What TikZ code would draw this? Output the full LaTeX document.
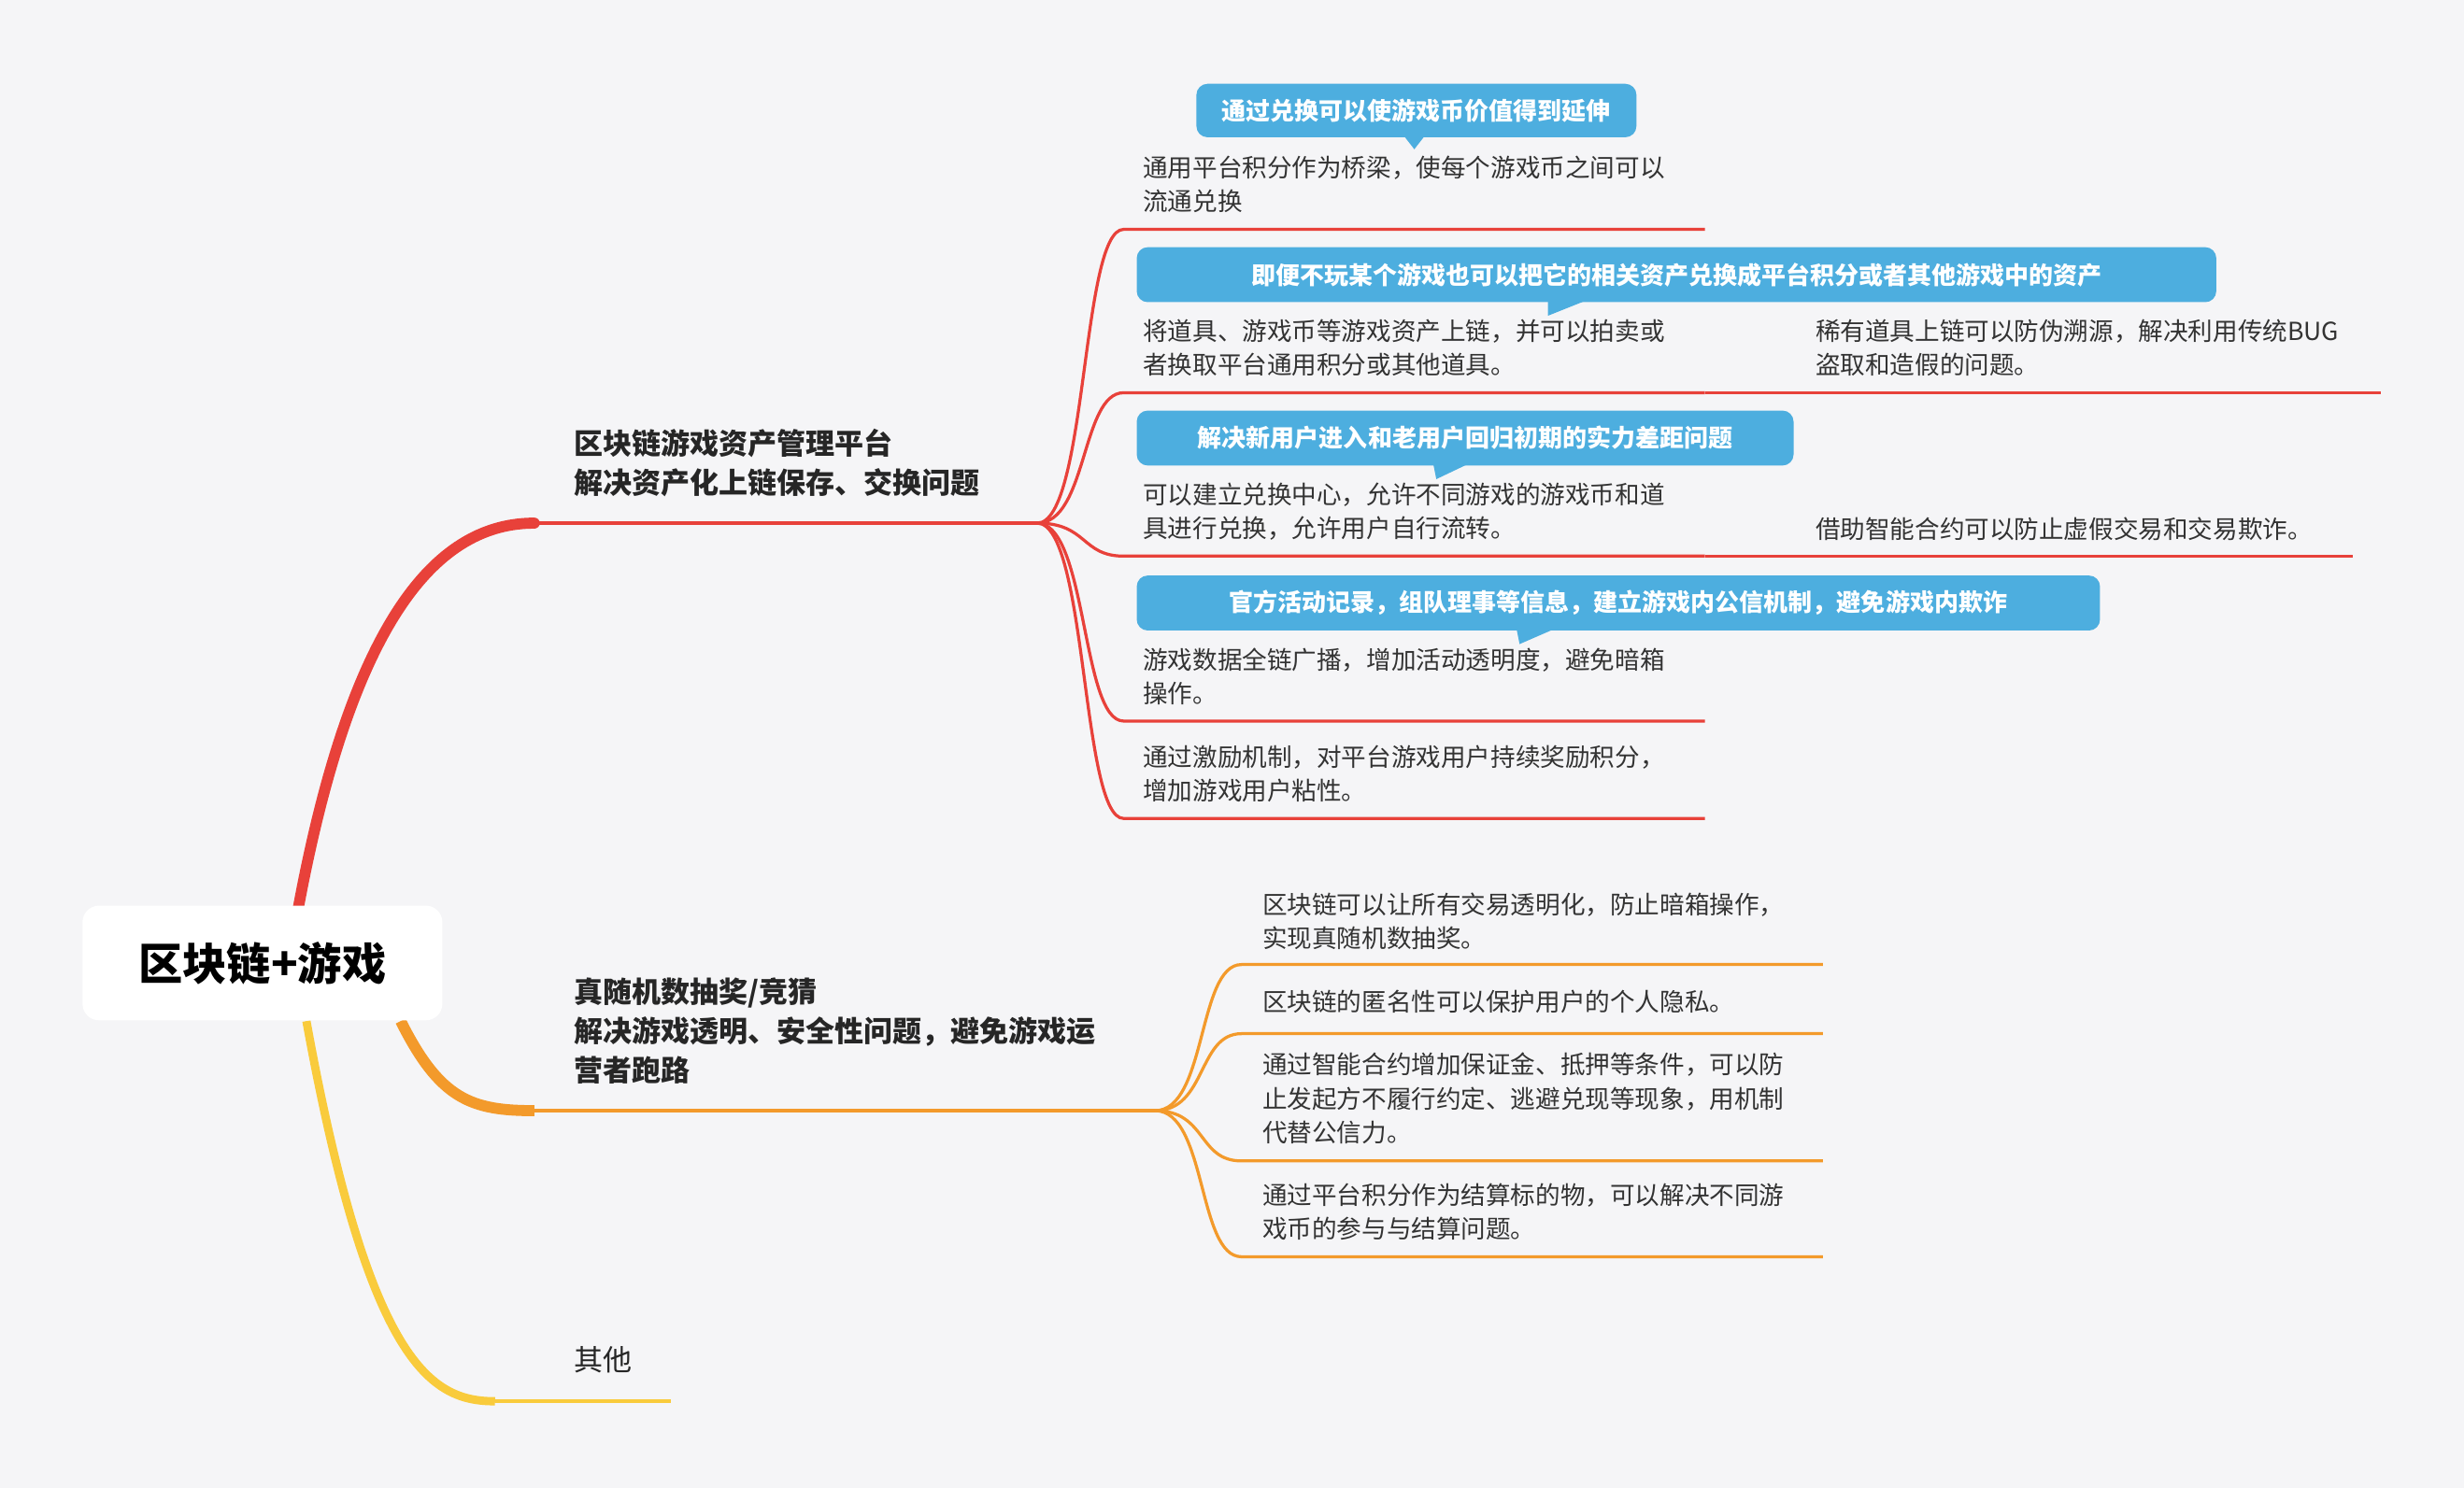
\documentclass[tikz,border=0pt]{standalone}
\usepackage{fontspec}
\setmainfont{Noto Sans CJK SC}
\definecolor{bg}{HTML}{F5F5F7}
\definecolor{cred}{HTML}{E8413A}
\definecolor{corange}{HTML}{F39A2B}
\definecolor{cyellow}{HTML}{F9CB3C}
\definecolor{cblue}{HTML}{4DAEDF}
\definecolor{ctext}{HTML}{333333}
\begin{document}
\begin{tikzpicture}[x=0.02cm,y=-0.02cm,
  leaf/.style={anchor=north west,inner sep=0,align=left,text=ctext,font=\fontsize{9}{12.2}\selectfont},
  branch/.style={anchor=north west,inner sep=0,align=left,text=black!85,font=\fontsize{10.5}{14.2}\selectfont\bfseries},
  callout/.style={fill=cblue,rounded corners=4pt,text=white,font=\fontsize{8.8}{11}\selectfont\bfseries,inner sep=0,anchor=north west},
  sub/.style={line width=1.1pt}]
\fill[bg] (0,0) rectangle (1568,947);
\useasboundingbox (0,0) rectangle (1568,947);
% main branches
\coordinate (rtop) at (190,577);
\coordinate (rbot) at (255,650);
\coordinate (ybot) at (195,650);
\draw[cred,line width=4pt,line cap=round] (rtop) .. controls (225,390) and (280,333) .. (340,333) coordinate (b1);
\draw[cred,line width=1.3pt] (b1) -- (660,333) coordinate (h1);
\draw[corange,line width=4pt] (rbot) .. controls (280,700) and (300,707) .. (340,707) coordinate (b2);
\draw[corange,line width=1.3pt] (b2) -- (735,707) coordinate (h2);
\draw[cyellow,line width=3pt] (ybot) .. controls (235,870) and (275,892) .. (315,892) coordinate (b3);
\draw[cyellow,line width=1.3pt] (b3) -- (427,892);
% root
\node[fill=white,rounded corners=6pt,minimum width=229*0.02cm,minimum height=73*0.02cm,font=\fontsize{16}{18}\selectfont\bfseries] (root) at (167,613) {区块链+游戏};
\node[branch] (l1) at (365,273) {区块链游戏资产管理平台\\解决资产化上链保存、交换问题};
\node[branch] (l2) at (365,622) {真随机数抽奖/竞猜\\解决游戏透明、安全性问题，避免游戏运\\营者跑路};
\node[branch,font=\fontsize{10.5}{14}\selectfont] (l3) at (365,857) {其他};
% red sub-branches
\foreach \y in {146,250,354,459,521}{
  \draw[cred,sub] (h1) .. controls (692,333) and (688,\y) .. (715,\y) -- (1085,\y);
}
\draw[cred,sub] (1085,250) -- (1515,250);
\draw[cred,sub] (1085,354) -- (1497,354);
% callouts
\fill[cblue] (893,86) -- (907,86) -- (900,95) -- cycle;
\node[callout,minimum width=280*0.02cm,minimum height=34*0.02cm] (c1) at (761,53) {通过兑换可以使游戏币价值得到延伸};
\fill[cblue] (985,191) -- (1010,191) -- (985,201) -- cycle;
\node[callout,minimum width=687*0.02cm,minimum height=35*0.02cm] (c2) at (723,157) {即便不玩某个游戏也可以把它的相关资产兑换成平台积分或者其他游戏中的资产};
\fill[cblue] (912,295) -- (935,295) -- (914,305) -- cycle;
\node[callout,minimum width=418*0.02cm,minimum height=35*0.02cm] (c3) at (723,261) {解决新用户进入和老用户回归初期的实力差距问题};
\fill[cblue] (965,400) -- (990,400) -- (967,410) -- cycle;
\node[callout,minimum width=613*0.02cm,minimum height=35*0.02cm] (c4) at (723,366) {官方活动记录，组队理事等信息，建立游戏内公信机制，避免游戏内欺诈};
% red leaves
\node[leaf] (t1) at (727,99) {通用平台积分作为桥梁，使每个游戏币之间可以\\流通兑换};
\node[leaf] (t2) at (727,203) {将道具、游戏币等游戏资产上链，并可以拍卖或\\者换取平台通用积分或其他道具。};
\node[leaf] (t2b) at (1155,203) {稀有道具上链可以防伪溯源，解决利用传统BUG\\盗取和造假的问题。};
\node[leaf] (t3) at (727,307) {可以建立兑换中心，允许不同游戏的游戏币和道\\具进行兑换，允许用户自行流转。};
\node[leaf] (t3b) at (1155,329) {借助智能合约可以防止虚假交易和交易欺诈。};
\node[leaf] (t4) at (727,412) {游戏数据全链广播，增加活动透明度，避免暗箱\\操作。};
\node[leaf] (t5) at (727,474) {通过激励机制，对平台游戏用户持续奖励积分，\\增加游戏用户粘性。};
% orange sub-branches
\foreach \y in {614,658,739,800}{
  \draw[corange,sub] (h2) .. controls (768,707) and (762,\y) .. (790,\y) -- (1160,\y);
}
\node[leaf] (o1) at (803,568) {区块链可以让所有交易透明化，防止暗箱操作，\\实现真随机数抽奖。};
\node[leaf] (o2) at (803,630) {区块链的匿名性可以保护用户的个人隐私。};
\node[leaf] (o3) at (803,670) {通过智能合约增加保证金、抵押等条件，可以防\\止发起方不履行约定、逃避兑现等现象，用机制\\代替公信力。};
\node[leaf] (o4) at (803,753) {通过平台积分作为结算标的物，可以解决不同游\\戏币的参与与结算问题。};
\end{tikzpicture}
\end{document}
